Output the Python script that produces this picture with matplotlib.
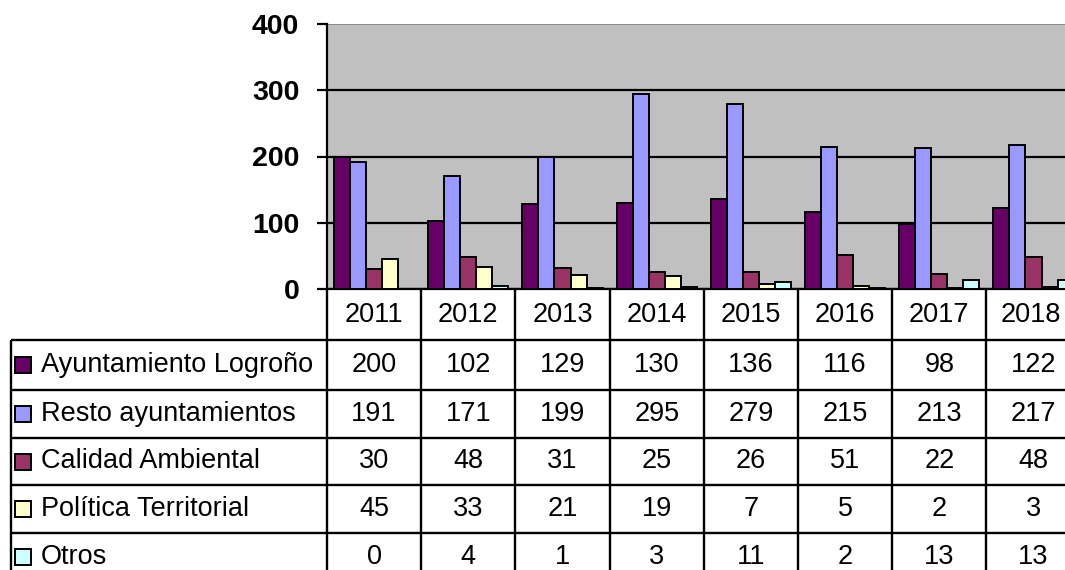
import numpy as np
import matplotlib.pyplot as plt
from matplotlib.patches import Rectangle

years = ['2011', '2012', '2013', '2014', '2015', '2016', '2017', '2018']
series = ['Ayuntamiento Logroño', 'Resto ayuntamientos', 'Calidad Ambiental',
          'Política Territorial', 'Otros']
ayto_logrono = [200, 102, 129, 130, 136, 116, 98, 122]
resto_aytos = [191, 171, 199, 295, 279, 215, 213, 217]
calidad_amb = [30, 48, 31, 25, 26, 51, 22, 48]
politica_terr = [45, 33, 21, 19, 7, 5, 2, 3]
otros = [0, 4, 1, 3, 11, 2, 13, 13]
values = [ayto_logrono, resto_aytos, calidad_amb, politica_terr, otros]
colors = ['#660066', '#9999FF', '#993366', '#FFFFCC', '#CCFFFF']

W, H = 1065, 570
fig = plt.figure(figsize=(W / 100, H / 100), dpi=100)

# layout in pixels (plot runs past the right edge, as in the source)
x0, colw = 327, 94.2
y_top, y_base = 24, 289
ax = fig.add_axes([x0 / W, (H - y_base) / H, len(years) * colw / W,
                   (y_base - y_top) / H])
ax.set_facecolor('#C0C0C0')

bw = 0.17
off = 0.075
x = np.arange(len(years))
for i, (vals, c) in enumerate(zip(values, colors)):
    ax.bar(x + off + bw * (i + 0.5), vals, width=bw, color=c,
           edgecolor='black', linewidth=1.4, zorder=3)

ax.set_xlim(0, len(years))
ax.set_ylim(0, 400)
ax.set_yticks([0, 100, 200, 300, 400])
ax.set_xticks([])
ax.yaxis.grid(True, color='black', linewidth=1.6)
ax.get_ygridlines()[-1].set_color('#808080')
ax.get_ygridlines()[-1].set_linewidth(1.2)
ax.set_axisbelow(True)
for s in ['top', 'right']:
    ax.spines[s].set_visible(False)
for s in ['left', 'bottom']:
    ax.spines[s].set_linewidth(1.6)
ax.tick_params(axis='y', length=7, width=1.6, pad=13, direction='out')
for lab in ax.get_yticklabels():
    lab.set_fontfamily('Liberation Sans')
    lab.set_fontweight('bold')
    lab.set_fontsize(20.5)

# data table drawn below the plot, in pixel coordinates
tab = fig.add_axes([0, 0, 1, 1], zorder=5)
tab.set_xlim(0, W)
tab.set_ylim(H, 0)
tab.axis('off')

x_left = 11
x_right = x0 + len(years) * colw
rows = [340, 390, 438, 485, 533, 581]
lk = dict(color='black', linewidth=1.7, solid_capstyle='butt')
for k in range(len(years) + 1):
    tab.plot([x0 + k * colw] * 2, [y_base, H], **lk)
tab.plot([x_left, x_left], [rows[0], H], **lk)
for r in rows[:-1]:
    tab.plot([x_left, x_right], [r, r], **lk)

tf = dict(family='Liberation Sans', fontsize=19.5, color='black')
nf = dict(family='Liberation Sans', fontsize=19.5, color='black')
for k, yr in enumerate(years):
    tab.text(x0 + (k + 0.5) * colw - (3 if k == len(years) - 1 else 0),
             (y_base + rows[0]) / 2 + 1, yr, ha='center', va='center', **nf)

for j, (name, vals, c) in enumerate(zip(series, values, colors)):
    yc = (rows[j] + rows[j + 1]) / 2
    tab.add_patch(Rectangle((15, yc - 8), 16, 16, facecolor=c,
                            edgecolor='black', linewidth=1.4))
    tab.text(41, yc, name, ha='left', va='center', **tf)
    for k, v in enumerate(vals):
        tab.text(x0 + (k + 0.5) * colw, yc, str(v), ha='center',
                 va='center', **nf)

fig.savefig('out.png', dpi=100)
